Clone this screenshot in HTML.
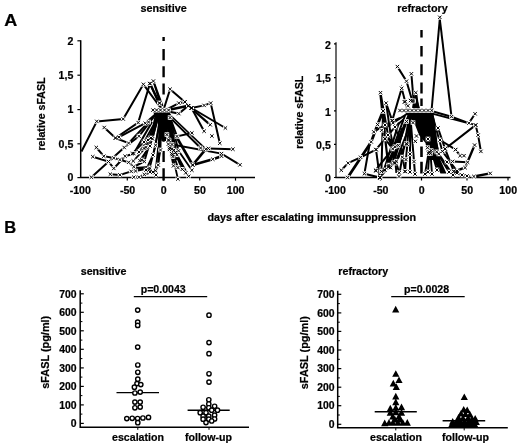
<!DOCTYPE html>
<html><head><meta charset="utf-8"><title>Figure</title>
<style>html,body{margin:0;padding:0;background:#fff}svg{display:block;filter:grayscale(1)}text{font-family:"Liberation Sans",sans-serif;font-weight:bold;stroke:#000;stroke-width:0.22px}</style></head><body>
<svg width="520" height="447" viewBox="0 0 520 447" font-family="Liberation Sans, sans-serif" font-weight="bold" fill="#000">
<rect width="520" height="447" fill="#fff"/>
<text x="4.2" y="25.9" font-size="16" text-anchor="start" textLength="13" lengthAdjust="spacingAndGlyphs">A</text>
<text x="4.3" y="233.2" font-size="16.5" text-anchor="start" >B</text>
<text x="163.6" y="12" font-size="10.8" text-anchor="middle" >sensitive</text>
<text x="422.5" y="12" font-size="10.8" text-anchor="middle" >refractory</text>
<text x="311.8" y="220.8" font-size="10.6" text-anchor="middle" textLength="208.5" lengthAdjust="spacingAndGlyphs">days after escalating immunsuppression</text>
<g stroke="#000" fill="none" stroke-linejoin="round" stroke-linecap="butt">
<path d="M80.7,40.2V177.6H255" stroke-width="1.5"/>
<path d="M77.4,40.8H80.7" stroke-width="1.2"/>
<path d="M77.4,75.2H80.7" stroke-width="1.2"/>
<path d="M77.4,109.6H80.7" stroke-width="1.2"/>
<path d="M77.4,143.8H80.7" stroke-width="1.2"/>
<path d="M77.4,177.6H80.7" stroke-width="1.2"/>
<path d="M127.3,177.6V180.6" stroke-width="1.2"/>
<path d="M163.5,177.6V180.6" stroke-width="1.2"/>
<path d="M199.7,177.6V180.6" stroke-width="1.2"/>
<path d="M235.5,177.6V180.6" stroke-width="1.2"/>
<path d="M163.6,37V41 M163.6,49V60.2 M163.6,66.2V77.3 M163.6,83.4V94.4 M163.6,139.5V141.8 M163.6,151V162 M163.6,168.3V180.5" stroke-width="2.4"/>
</g>
<text x="73.3" y="44.599999999999994" font-size="10.6" text-anchor="end" >2</text>
<text x="73.3" y="79.0" font-size="10.6" text-anchor="end" >1,5</text>
<text x="73.3" y="113.39999999999999" font-size="10.6" text-anchor="end" >1</text>
<text x="73.3" y="147.60000000000002" font-size="10.6" text-anchor="end" >0,5</text>
<text x="73.3" y="181.4" font-size="10.6" text-anchor="end" >0</text>
<text x="80.3" y="194" font-size="10.6" text-anchor="middle" >-100</text>
<text x="127.6" y="194" font-size="10.6" text-anchor="middle" >-50</text>
<text x="163.7" y="194" font-size="10.6" text-anchor="middle" >0</text>
<text x="200" y="194" font-size="10.6" text-anchor="middle" >50</text>
<text x="235.6" y="194" font-size="10.6" text-anchor="middle" >100</text>
<text transform="translate(44.7,114) rotate(-90)" font-size="10.6" text-anchor="middle">relative sFASL</text>
<g stroke="#000" fill="none" stroke-linejoin="miter" stroke-linecap="butt">
<path d="M153,111.5 L170,111.5 L168.5,125 L166,141 L161.5,141 L158.5,125 Z" fill="#000" stroke="none"/>
<polyline points="168,117.6 176,160" stroke-width="3.2"/>
<polyline points="160.5,120 158.2,158" stroke-width="2.4"/>
<polyline points="81.5,151.5 96.8,121.4" stroke-width="2.0"/>
<polyline points="96.8,121.4 123.2,119 143.4,84.3 160,107" stroke-width="2.0"/>
<polyline points="104.2,127.5 115.5,138 138.2,122.6 149.9,83.6 161,108" stroke-width="2.0"/>
<polyline points="149.9,83.6 159.5,103.1" stroke-width="2.2"/>
<polyline points="153.4,81.1 162.5,106" stroke-width="2.0"/>
<polyline points="153.4,81.1 160,103" stroke-width="1.6"/>
<polyline points="163.5,110 170.1,89.2 184.9,101.9 191.5,108" stroke-width="2.0"/>
<polyline points="165.7,110 178.8,103.1 184.9,101.9" stroke-width="2.0"/>
<polyline points="165.7,110.5 188.4,105.8" stroke-width="2.4"/>
<polyline points="165.7,111 178.8,113.6 188.4,105.8" stroke-width="2.0"/>
<polyline points="191.5,108 204.1,105.4 210.7,103.1 219.8,143.2" stroke-width="2.0"/>
<polyline points="191.5,108 204.1,131.2" stroke-width="2.0"/>
<polyline points="191.5,108 225.4,128" stroke-width="2.0"/>
<polyline points="188.4,105.8 210.2,124.8" stroke-width="2.2"/>
<polyline points="170.1,117.6 200.6,148 208.4,148.4 232.9,149.2" stroke-width="2.0"/>
<polyline points="168,113 205.8,149.2" stroke-width="1.7"/>
<polyline points="170.1,117.6 177,136.4 191.9,133" stroke-width="2.0"/>
<polyline points="172,144.5 221.5,153.6 240,164.8" stroke-width="2.0"/>
<polyline points="176,136 192.7,165" stroke-width="2.6"/>
<polyline points="192.7,165 212.8,159.2 221.5,156.2" stroke-width="2.6"/>
<polyline points="192.7,165 205.8,149.2" stroke-width="2.6"/>
<polyline points="166.5,113 169.10399999999998,140.39 172.7,154.5" stroke-width="1.8"/>
<polyline points="166.9,113 169.672,147.848 173.5,165.8" stroke-width="1.8"/>
<polyline points="167.3,113 171.752,149.036 177.9,167.6" stroke-width="1.8"/>
<polyline points="167.7,113 173.832,150.15800000000002 182.3,169.3" stroke-width="1.8"/>
<polyline points="168.1,113 175.534,152.46800000000002 185.8,172.8" stroke-width="1.8"/>
<polyline points="168.5,113 176.98399999999998,154.77800000000002 188.7,176.3" stroke-width="1.8"/>
<polyline points="168.9,113 178.56,150.752 191.9,170.2" stroke-width="1.8"/>
<polyline points="169.3,113 172.912,156.56 177.9,179" stroke-width="1.8"/>
<polyline points="91.4,177.2 124.2,147.5 139,136.2 156,114" stroke-width="2.0"/>
<polyline points="119,137.1 145.2,123.2 158,112" stroke-width="2.0"/>
<polyline points="115.5,138 128.6,143.1 148.6,122 159,111" stroke-width="2.0"/>
<polyline points="96.3,147.5 103.8,156.2 113.8,158 119.9,159.7 128.6,162.3 133.8,166.7 144.3,161.5 157,118" stroke-width="2.0"/>
<polyline points="92.8,156.7 108.5,161.5 113.8,168.4 125.1,156.2 133.8,153.6 152,122" stroke-width="2.0"/>
<polyline points="110.3,174.2 119.9,174.9 131.2,171.4 135.6,171 149.5,168" stroke-width="2.0"/>
<polyline points="133.8,177.2 139,177.2 144.3,174.5 153,172 158.2,165 162,115" stroke-width="2.0"/>
<polyline points="135,168.5 149,167.5" stroke-width="3"/>
<polyline points="141.8,160 152.5,138.8 157.8,117.6" stroke-width="1.8"/>
<polyline points="149.3,169.6 155.6,145.2 159.9,117.6" stroke-width="1.8"/>
<polyline points="155.6,170.7 159.9,132.5" stroke-width="1.8"/>
<polyline points="132.3,153.7 144,142 153.5,125 156,114" stroke-width="1.8"/>
<polyline points="133.3,161 146,147.3 154.6,128.2 157,114" stroke-width="1.8"/>
<polyline points="139,152 148,140 155,122" stroke-width="1.8"/>
<polyline points="144,148.4 151,138 156.5,120" stroke-width="1.8"/>
<polyline points="139.9,160.6 150,146 157,122" stroke-width="1.8"/>
<polyline points="150,172 156,175 160.5,150 161,125" stroke-width="1.8"/>
<polyline points="146,170 153,155 158.5,130" stroke-width="1.8"/>
<rect x="94.5" y="119.1" width="4.6" height="4.6" fill="#fff" stroke="none"/>
<rect x="120.9" y="116.7" width="4.6" height="4.6" fill="#fff" stroke="none"/>
<rect x="141.1" y="82.0" width="4.6" height="4.6" fill="#fff" stroke="none"/>
<rect x="101.9" y="125.2" width="4.6" height="4.6" fill="#fff" stroke="none"/>
<rect x="113.2" y="135.7" width="4.6" height="4.6" fill="#fff" stroke="none"/>
<rect x="135.9" y="120.3" width="4.6" height="4.6" fill="#fff" stroke="none"/>
<rect x="147.6" y="81.3" width="4.6" height="4.6" fill="#fff" stroke="none"/>
<rect x="147.6" y="81.3" width="4.6" height="4.6" fill="#fff" stroke="none"/>
<rect x="157.2" y="100.8" width="4.6" height="4.6" fill="#fff" stroke="none"/>
<rect x="151.1" y="78.8" width="4.6" height="4.6" fill="#fff" stroke="none"/>
<rect x="167.8" y="86.9" width="4.6" height="4.6" fill="#fff" stroke="none"/>
<rect x="182.6" y="99.6" width="4.6" height="4.6" fill="#fff" stroke="none"/>
<rect x="189.2" y="105.7" width="4.6" height="4.6" fill="#fff" stroke="none"/>
<rect x="176.5" y="100.8" width="4.6" height="4.6" fill="#fff" stroke="none"/>
<rect x="182.6" y="99.6" width="4.6" height="4.6" fill="#fff" stroke="none"/>
<rect x="186.1" y="103.5" width="4.6" height="4.6" fill="#fff" stroke="none"/>
<rect x="176.5" y="111.3" width="4.6" height="4.6" fill="#fff" stroke="none"/>
<rect x="186.1" y="103.5" width="4.6" height="4.6" fill="#fff" stroke="none"/>
<rect x="189.2" y="105.7" width="4.6" height="4.6" fill="#fff" stroke="none"/>
<rect x="201.8" y="103.1" width="4.6" height="4.6" fill="#fff" stroke="none"/>
<rect x="208.4" y="100.8" width="4.6" height="4.6" fill="#fff" stroke="none"/>
<rect x="217.5" y="140.9" width="4.6" height="4.6" fill="#fff" stroke="none"/>
<rect x="189.2" y="105.7" width="4.6" height="4.6" fill="#fff" stroke="none"/>
<rect x="201.8" y="128.9" width="4.6" height="4.6" fill="#fff" stroke="none"/>
<rect x="189.2" y="105.7" width="4.6" height="4.6" fill="#fff" stroke="none"/>
<rect x="223.1" y="125.7" width="4.6" height="4.6" fill="#fff" stroke="none"/>
<rect x="186.1" y="103.5" width="4.6" height="4.6" fill="#fff" stroke="none"/>
<rect x="207.9" y="122.5" width="4.6" height="4.6" fill="#fff" stroke="none"/>
<rect x="209.6" y="133.7" width="4.6" height="4.6" fill="#fff" stroke="none"/>
<rect x="198.3" y="145.7" width="4.6" height="4.6" fill="#fff" stroke="none"/>
<rect x="206.1" y="146.1" width="4.6" height="4.6" fill="#fff" stroke="none"/>
<rect x="230.6" y="146.9" width="4.6" height="4.6" fill="#fff" stroke="none"/>
<rect x="174.7" y="134.1" width="4.6" height="4.6" fill="#fff" stroke="none"/>
<rect x="189.6" y="130.7" width="4.6" height="4.6" fill="#fff" stroke="none"/>
<rect x="169.7" y="142.2" width="4.6" height="4.6" fill="#fff" stroke="none"/>
<rect x="219.2" y="151.3" width="4.6" height="4.6" fill="#fff" stroke="none"/>
<rect x="237.7" y="162.5" width="4.6" height="4.6" fill="#fff" stroke="none"/>
<rect x="190.4" y="162.7" width="4.6" height="4.6" fill="#fff" stroke="none"/>
<rect x="210.5" y="156.9" width="4.6" height="4.6" fill="#fff" stroke="none"/>
<rect x="219.2" y="153.9" width="4.6" height="4.6" fill="#fff" stroke="none"/>
<rect x="190.4" y="162.7" width="4.6" height="4.6" fill="#fff" stroke="none"/>
<rect x="203.5" y="146.9" width="4.6" height="4.6" fill="#fff" stroke="none"/>
<rect x="166.8" y="138.1" width="4.6" height="4.6" fill="#fff" stroke="none"/>
<rect x="170.4" y="152.2" width="4.6" height="4.6" fill="#fff" stroke="none"/>
<rect x="167.4" y="145.5" width="4.6" height="4.6" fill="#fff" stroke="none"/>
<rect x="171.2" y="163.5" width="4.6" height="4.6" fill="#fff" stroke="none"/>
<rect x="169.5" y="146.7" width="4.6" height="4.6" fill="#fff" stroke="none"/>
<rect x="175.6" y="165.3" width="4.6" height="4.6" fill="#fff" stroke="none"/>
<rect x="171.5" y="147.9" width="4.6" height="4.6" fill="#fff" stroke="none"/>
<rect x="180.0" y="167.0" width="4.6" height="4.6" fill="#fff" stroke="none"/>
<rect x="173.2" y="150.2" width="4.6" height="4.6" fill="#fff" stroke="none"/>
<rect x="183.5" y="170.5" width="4.6" height="4.6" fill="#fff" stroke="none"/>
<rect x="174.7" y="152.5" width="4.6" height="4.6" fill="#fff" stroke="none"/>
<rect x="186.4" y="174.0" width="4.6" height="4.6" fill="#fff" stroke="none"/>
<rect x="176.3" y="148.5" width="4.6" height="4.6" fill="#fff" stroke="none"/>
<rect x="189.6" y="167.9" width="4.6" height="4.6" fill="#fff" stroke="none"/>
<rect x="170.6" y="154.3" width="4.6" height="4.6" fill="#fff" stroke="none"/>
<rect x="175.6" y="176.7" width="4.6" height="4.6" fill="#fff" stroke="none"/>
<rect x="164.6" y="132.3" width="4.6" height="4.6" fill="#fff" stroke="none"/>
<rect x="166.1" y="137.6" width="4.6" height="4.6" fill="#fff" stroke="none"/>
<rect x="166.1" y="141.8" width="4.6" height="4.6" fill="#fff" stroke="none"/>
<rect x="167.2" y="147.1" width="4.6" height="4.6" fill="#fff" stroke="none"/>
<rect x="169.3" y="151.4" width="4.6" height="4.6" fill="#fff" stroke="none"/>
<rect x="89.1" y="174.9" width="4.6" height="4.6" fill="#fff" stroke="none"/>
<rect x="121.9" y="145.2" width="4.6" height="4.6" fill="#fff" stroke="none"/>
<rect x="136.7" y="133.9" width="4.6" height="4.6" fill="#fff" stroke="none"/>
<rect x="116.7" y="134.8" width="4.6" height="4.6" fill="#fff" stroke="none"/>
<rect x="142.9" y="120.9" width="4.6" height="4.6" fill="#fff" stroke="none"/>
<rect x="113.2" y="135.7" width="4.6" height="4.6" fill="#fff" stroke="none"/>
<rect x="126.3" y="140.8" width="4.6" height="4.6" fill="#fff" stroke="none"/>
<rect x="146.3" y="119.7" width="4.6" height="4.6" fill="#fff" stroke="none"/>
<rect x="94.0" y="145.2" width="4.6" height="4.6" fill="#fff" stroke="none"/>
<rect x="101.5" y="153.9" width="4.6" height="4.6" fill="#fff" stroke="none"/>
<rect x="111.5" y="155.7" width="4.6" height="4.6" fill="#fff" stroke="none"/>
<rect x="117.6" y="157.4" width="4.6" height="4.6" fill="#fff" stroke="none"/>
<rect x="126.3" y="160.0" width="4.6" height="4.6" fill="#fff" stroke="none"/>
<rect x="131.5" y="164.4" width="4.6" height="4.6" fill="#fff" stroke="none"/>
<rect x="142.0" y="159.2" width="4.6" height="4.6" fill="#fff" stroke="none"/>
<rect x="90.5" y="154.4" width="4.6" height="4.6" fill="#fff" stroke="none"/>
<rect x="106.2" y="159.2" width="4.6" height="4.6" fill="#fff" stroke="none"/>
<rect x="111.5" y="166.1" width="4.6" height="4.6" fill="#fff" stroke="none"/>
<rect x="122.8" y="153.9" width="4.6" height="4.6" fill="#fff" stroke="none"/>
<rect x="131.5" y="151.3" width="4.6" height="4.6" fill="#fff" stroke="none"/>
<rect x="108.0" y="171.9" width="4.6" height="4.6" fill="#fff" stroke="none"/>
<rect x="117.6" y="172.6" width="4.6" height="4.6" fill="#fff" stroke="none"/>
<rect x="128.9" y="169.1" width="4.6" height="4.6" fill="#fff" stroke="none"/>
<rect x="133.3" y="168.7" width="4.6" height="4.6" fill="#fff" stroke="none"/>
<rect x="147.2" y="165.7" width="4.6" height="4.6" fill="#fff" stroke="none"/>
<rect x="131.5" y="174.9" width="4.6" height="4.6" fill="#fff" stroke="none"/>
<rect x="136.7" y="174.9" width="4.6" height="4.6" fill="#fff" stroke="none"/>
<rect x="142.0" y="172.2" width="4.6" height="4.6" fill="#fff" stroke="none"/>
<rect x="150.7" y="169.7" width="4.6" height="4.6" fill="#fff" stroke="none"/>
<rect x="155.9" y="162.7" width="4.6" height="4.6" fill="#fff" stroke="none"/>
<rect x="139.5" y="157.7" width="4.6" height="4.6" fill="#fff" stroke="none"/>
<rect x="150.2" y="136.5" width="4.6" height="4.6" fill="#fff" stroke="none"/>
<rect x="147.0" y="167.3" width="4.6" height="4.6" fill="#fff" stroke="none"/>
<rect x="153.3" y="142.9" width="4.6" height="4.6" fill="#fff" stroke="none"/>
<rect x="153.3" y="168.4" width="4.6" height="4.6" fill="#fff" stroke="none"/>
<rect x="130.0" y="151.4" width="4.6" height="4.6" fill="#fff" stroke="none"/>
<rect x="141.7" y="139.7" width="4.6" height="4.6" fill="#fff" stroke="none"/>
<rect x="131.0" y="158.7" width="4.6" height="4.6" fill="#fff" stroke="none"/>
<rect x="143.7" y="145.0" width="4.6" height="4.6" fill="#fff" stroke="none"/>
<rect x="136.7" y="149.7" width="4.6" height="4.6" fill="#fff" stroke="none"/>
<rect x="145.7" y="137.7" width="4.6" height="4.6" fill="#fff" stroke="none"/>
<rect x="141.7" y="146.1" width="4.6" height="4.6" fill="#fff" stroke="none"/>
<rect x="148.7" y="135.7" width="4.6" height="4.6" fill="#fff" stroke="none"/>
<rect x="137.6" y="158.3" width="4.6" height="4.6" fill="#fff" stroke="none"/>
<rect x="147.7" y="143.7" width="4.6" height="4.6" fill="#fff" stroke="none"/>
<rect x="147.7" y="169.7" width="4.6" height="4.6" fill="#fff" stroke="none"/>
<rect x="153.7" y="172.7" width="4.6" height="4.6" fill="#fff" stroke="none"/>
<rect x="158.2" y="147.7" width="4.6" height="4.6" fill="#fff" stroke="none"/>
<rect x="143.7" y="167.7" width="4.6" height="4.6" fill="#fff" stroke="none"/>
<rect x="150.7" y="152.7" width="4.6" height="4.6" fill="#fff" stroke="none"/>
<rect x="150.7" y="107.8" width="4.6" height="4.6" fill="#fff" stroke="none"/>
<rect x="154.3" y="107.8" width="4.6" height="4.6" fill="#fff" stroke="none"/>
<rect x="158.2" y="107.8" width="4.6" height="4.6" fill="#fff" stroke="none"/>
<rect x="162.2" y="107.8" width="4.6" height="4.6" fill="#fff" stroke="none"/>
<rect x="166.3" y="107.8" width="4.6" height="4.6" fill="#fff" stroke="none"/>
<rect x="157.3" y="100.8" width="4.6" height="4.6" fill="#fff" stroke="none"/>
<rect x="167.8" y="115.3" width="4.6" height="4.6" fill="#fff" stroke="none"/>
<path d="M95.1,119.7L98.5,123.1M95.1,123.1L98.5,119.7M121.5,117.3L124.9,120.7M121.5,120.7L124.9,117.3M141.7,82.6L145.1,86.0M141.7,86.0L145.1,82.6M102.5,125.8L105.9,129.2M102.5,129.2L105.9,125.8M113.8,136.3L117.2,139.7M113.8,139.7L117.2,136.3M136.5,120.9L139.9,124.3M136.5,124.3L139.9,120.9M148.2,81.9L151.6,85.3M148.2,85.3L151.6,81.9M148.2,81.9L151.6,85.3M148.2,85.3L151.6,81.9M157.8,101.4L161.2,104.8M157.8,104.8L161.2,101.4M151.7,79.4L155.1,82.8M151.7,82.8L155.1,79.4M168.4,87.5L171.8,90.9M168.4,90.9L171.8,87.5M183.2,100.2L186.6,103.6M183.2,103.6L186.6,100.2M189.8,106.3L193.2,109.7M189.8,109.7L193.2,106.3M177.1,101.4L180.5,104.8M177.1,104.8L180.5,101.4M183.2,100.2L186.6,103.6M183.2,103.6L186.6,100.2M186.7,104.1L190.1,107.5M186.7,107.5L190.1,104.1M177.1,111.9L180.5,115.3M177.1,115.3L180.5,111.9M186.7,104.1L190.1,107.5M186.7,107.5L190.1,104.1M189.8,106.3L193.2,109.7M189.8,109.7L193.2,106.3M202.4,103.7L205.8,107.1M202.4,107.1L205.8,103.7M209.0,101.4L212.4,104.8M209.0,104.8L212.4,101.4M218.1,141.5L221.5,144.9M218.1,144.9L221.5,141.5M189.8,106.3L193.2,109.7M189.8,109.7L193.2,106.3M202.4,129.5L205.8,132.9M202.4,132.9L205.8,129.5M189.8,106.3L193.2,109.7M189.8,109.7L193.2,106.3M223.7,126.3L227.1,129.7M223.7,129.7L227.1,126.3M186.7,104.1L190.1,107.5M186.7,107.5L190.1,104.1M208.5,123.1L211.9,126.5M208.5,126.5L211.9,123.1M210.2,134.3L213.6,137.7M210.2,137.7L213.6,134.3M198.9,146.3L202.3,149.7M198.9,149.7L202.3,146.3M206.7,146.7L210.1,150.1M206.7,150.1L210.1,146.7M231.2,147.5L234.6,150.9M231.2,150.9L234.6,147.5M175.3,134.7L178.7,138.1M175.3,138.1L178.7,134.7M190.2,131.3L193.6,134.7M190.2,134.7L193.6,131.3M170.3,142.8L173.7,146.2M170.3,146.2L173.7,142.8M219.8,151.9L223.2,155.3M219.8,155.3L223.2,151.9M238.3,163.1L241.7,166.5M238.3,166.5L241.7,163.1M191.0,163.3L194.4,166.7M191.0,166.7L194.4,163.3M211.1,157.5L214.5,160.9M211.1,160.9L214.5,157.5M219.8,154.5L223.2,157.9M219.8,157.9L223.2,154.5M191.0,163.3L194.4,166.7M191.0,166.7L194.4,163.3M204.1,147.5L207.5,150.9M204.1,150.9L207.5,147.5M167.4,138.7L170.8,142.1M167.4,142.1L170.8,138.7M171.0,152.8L174.4,156.2M171.0,156.2L174.4,152.8M168.0,146.1L171.4,149.5M168.0,149.5L171.4,146.1M171.8,164.1L175.2,167.5M171.8,167.5L175.2,164.1M170.1,147.3L173.5,150.7M170.1,150.7L173.5,147.3M176.2,165.9L179.6,169.3M176.2,169.3L179.6,165.9M172.1,148.5L175.5,151.9M172.1,151.9L175.5,148.5M180.6,167.6L184.0,171.0M180.6,171.0L184.0,167.6M173.8,150.8L177.2,154.2M173.8,154.2L177.2,150.8M184.1,171.1L187.5,174.5M184.1,174.5L187.5,171.1M175.3,153.1L178.7,156.5M175.3,156.5L178.7,153.1M187.0,174.6L190.4,178.0M187.0,178.0L190.4,174.6M176.9,149.1L180.3,152.5M176.9,152.5L180.3,149.1M190.2,168.5L193.6,171.9M190.2,171.9L193.6,168.5M171.2,154.9L174.6,158.3M171.2,158.3L174.6,154.9M176.2,177.3L179.6,180.7M176.2,180.7L179.6,177.3M165.2,132.9L168.6,136.3M165.2,136.3L168.6,132.9M166.7,138.2L170.1,141.6M166.7,141.6L170.1,138.2M166.7,142.4L170.1,145.8M166.7,145.8L170.1,142.4M167.8,147.7L171.2,151.1M167.8,151.1L171.2,147.7M169.9,152.0L173.3,155.4M169.9,155.4L173.3,152.0M89.7,175.5L93.1,178.9M89.7,178.9L93.1,175.5M122.5,145.8L125.9,149.2M122.5,149.2L125.9,145.8M137.3,134.5L140.7,137.9M137.3,137.9L140.7,134.5M117.3,135.4L120.7,138.8M117.3,138.8L120.7,135.4M143.5,121.5L146.9,124.9M143.5,124.9L146.9,121.5M113.8,136.3L117.2,139.7M113.8,139.7L117.2,136.3M126.9,141.4L130.3,144.8M126.9,144.8L130.3,141.4M146.9,120.3L150.3,123.7M146.9,123.7L150.3,120.3M94.6,145.8L98.0,149.2M94.6,149.2L98.0,145.8M102.1,154.5L105.5,157.9M102.1,157.9L105.5,154.5M112.1,156.3L115.5,159.7M112.1,159.7L115.5,156.3M118.2,158.0L121.6,161.4M118.2,161.4L121.6,158.0M126.9,160.6L130.3,164.0M126.9,164.0L130.3,160.6M132.1,165.0L135.5,168.4M132.1,168.4L135.5,165.0M142.6,159.8L146.0,163.2M142.6,163.2L146.0,159.8M91.1,155.0L94.5,158.4M91.1,158.4L94.5,155.0M106.8,159.8L110.2,163.2M106.8,163.2L110.2,159.8M112.1,166.7L115.5,170.1M112.1,170.1L115.5,166.7M123.4,154.5L126.8,157.9M123.4,157.9L126.8,154.5M132.1,151.9L135.5,155.3M132.1,155.3L135.5,151.9M108.6,172.5L112.0,175.9M108.6,175.9L112.0,172.5M118.2,173.2L121.6,176.6M118.2,176.6L121.6,173.2M129.5,169.7L132.9,173.1M129.5,173.1L132.9,169.7M133.9,169.3L137.3,172.7M133.9,172.7L137.3,169.3M147.8,166.3L151.2,169.7M147.8,169.7L151.2,166.3M132.1,175.5L135.5,178.9M132.1,178.9L135.5,175.5M137.3,175.5L140.7,178.9M137.3,178.9L140.7,175.5M142.6,172.8L146.0,176.2M142.6,176.2L146.0,172.8M151.3,170.3L154.7,173.7M151.3,173.7L154.7,170.3M156.5,163.3L159.9,166.7M156.5,166.7L159.9,163.3M140.1,158.3L143.5,161.7M140.1,161.7L143.5,158.3M150.8,137.1L154.2,140.5M150.8,140.5L154.2,137.1M147.6,167.9L151.0,171.3M147.6,171.3L151.0,167.9M153.9,143.5L157.3,146.9M153.9,146.9L157.3,143.5M153.9,169.0L157.3,172.4M153.9,172.4L157.3,169.0M130.6,152.0L134.0,155.4M130.6,155.4L134.0,152.0M142.3,140.3L145.7,143.7M142.3,143.7L145.7,140.3M131.6,159.3L135.0,162.7M131.6,162.7L135.0,159.3M144.3,145.6L147.7,149.0M144.3,149.0L147.7,145.6M137.3,150.3L140.7,153.7M137.3,153.7L140.7,150.3M146.3,138.3L149.7,141.7M146.3,141.7L149.7,138.3M142.3,146.7L145.7,150.1M142.3,150.1L145.7,146.7M149.3,136.3L152.7,139.7M149.3,139.7L152.7,136.3M138.2,158.9L141.6,162.3M138.2,162.3L141.6,158.9M148.3,144.3L151.7,147.7M148.3,147.7L151.7,144.3M148.3,170.3L151.7,173.7M148.3,173.7L151.7,170.3M154.3,173.3L157.7,176.7M154.3,176.7L157.7,173.3M158.8,148.3L162.2,151.7M158.8,151.7L162.2,148.3M144.3,168.3L147.7,171.7M144.3,171.7L147.7,168.3M151.3,153.3L154.7,156.7M151.3,156.7L154.7,153.3M151.3,108.4L154.7,111.8M151.3,111.8L154.7,108.4M154.9,108.4L158.3,111.8M154.9,111.8L158.3,108.4M158.8,108.4L162.2,111.8M158.8,111.8L162.2,108.4M162.8,108.4L166.2,111.8M162.8,111.8L166.2,108.4M166.9,108.4L170.3,111.8M166.9,111.8L170.3,108.4M157.9,101.4L161.3,104.8M157.9,104.8L161.3,101.4M168.4,115.9L171.8,119.3M168.4,119.3L171.8,115.9" stroke="#000" stroke-width="1.0" fill="none"/>
</g>
<g stroke="#000" fill="none" stroke-linejoin="round" stroke-linecap="butt">
<path d="M336,42.3V177.5" stroke-width="1.5" stroke="#3a3a3a"/><path d="M335.3,177.5H510.5" stroke-width="1.5"/>
<path d="M334,43.9H336" stroke-width="1.2"/>
<path d="M334,77.7H336" stroke-width="1.2"/>
<path d="M334,110.9H336" stroke-width="1.2"/>
<path d="M334,144.3H336" stroke-width="1.2"/>
<path d="M334,177.5H336" stroke-width="1.2"/>
<path d="M380.5,177.5V180.5" stroke-width="1.2"/>
<path d="M421.5,177.5V180.5" stroke-width="1.2"/>
<path d="M467,177.5V180.5" stroke-width="1.2"/>
<path d="M508,177.5V180.5" stroke-width="1.2"/>
<path d="M421.5,30V37.5 M421.5,46V56.5 M421.5,64.3V75.3 M421.5,82.4V93.5 M421.5,98.5V106" stroke-width="2.4"/>
</g>
<text x="330.8" y="48.6" font-size="10.6" text-anchor="end" >2</text>
<text x="330.8" y="82.4" font-size="10.6" text-anchor="end" >1,5</text>
<text x="330.8" y="115.60000000000001" font-size="10.6" text-anchor="end" >1</text>
<text x="330.8" y="149.0" font-size="10.6" text-anchor="end" >0,5</text>
<text x="330.8" y="182.2" font-size="10.6" text-anchor="end" >0</text>
<text x="335.3" y="194" font-size="10.6" text-anchor="middle" >-100</text>
<text x="380.8" y="194" font-size="10.6" text-anchor="middle" >-50</text>
<text x="421.8" y="194" font-size="10.6" text-anchor="middle" >0</text>
<text x="467.2" y="194" font-size="10.6" text-anchor="middle" >50</text>
<text x="508.2" y="194" font-size="10.6" text-anchor="middle" >100</text>
<text transform="translate(303.4,112.2) rotate(-90)" font-size="10.6" text-anchor="middle">relative sFASL</text>
<g stroke="#000" fill="none" stroke-linejoin="miter" stroke-linecap="butt">
<path d="M404,111.5 L433,111.5 L435.5,125 L437.5,143 L440.5,160 L446.5,173.5 L440.5,173.5 L433.5,160 L428.5,160 L425.5,143 L419,135 L414,122 Z" fill="#000" stroke="none"/>
<path d="M421.5,136V142 M421.5,146.6V157 M421.5,161.7V173.4" stroke-width="2.6"/>
<polyline points="431.5,111 439.8,19" stroke-width="2.0"/>
<polyline points="439.8,19 451.5,116.7" stroke-width="2.0"/>
<polyline points="431.5,111 451.5,116.7 468.9,123.1 475.1,113.8" stroke-width="2.0"/>
<polyline points="432.3,113.6 475.6,125.1 478.1,135.1 480.9,151.4" stroke-width="2.0"/>
<polyline points="438,128 445.1,148.9 475.6,125.1" stroke-width="2.0"/>
<polyline points="474.6,145.1 465.1,167.7 453.8,171.4" stroke-width="2.4"/>
<polyline points="455.6,149.6 460.1,155.7 464,155.7" stroke-width="2.0"/>
<polyline points="473.9,176.5 490.2,173.4" stroke-width="2.4"/>
<polyline points="445.1,148.9 453.8,171.4" stroke-width="2.0"/>
<polyline points="440,140 455.6,149.6" stroke-width="2.0"/>
<polyline points="452.6,161.4 467.6,162.2" stroke-width="2.0"/>
<polyline points="341.3,170.2 348.1,163.1 360.6,157.3 376,149.6 384.8,138.8 395,127 404,119" stroke-width="2.0"/>
<polyline points="347.7,177.5 371.2,141.9 377.6,124.6 383.1,111" stroke-width="2.8"/>
<polyline points="383.1,111 385.2,138.9 388.5,166.9" stroke-width="2.2"/>
<polyline points="364.4,173.7 368.3,151.5 370.1,141.8" stroke-width="2.0"/>
<polyline points="364.4,173.7 379.8,177.5" stroke-width="2.0"/>
<polyline points="376,149.6 379.8,177.5" stroke-width="2.0"/>
<polyline points="379.8,177.5 388.5,166.9 395.2,163.1 410,125" stroke-width="2.0"/>
<polyline points="380.5,92.7 388,135 399.2,172.8" stroke-width="2.0"/>
<polyline points="386.1,103.1 392.2,120.6 398,135 405.2,171.4" stroke-width="2.0"/>
<polyline points="383.1,111 381.4,171.4 376,170.8" stroke-width="2.0"/>
<polyline points="392.2,120.6 401.7,88.3 405.2,101.7 407.9,105.8" stroke-width="2.0"/>
<polyline points="397.4,66.6 406.5,81.2 412.3,101" stroke-width="2.0"/>
<polyline points="411.4,73.8 413.6,101" stroke-width="2.0"/>
<polyline points="415.8,92.7 418,110" stroke-width="2.6"/>
<polyline points="415.8,92.7 413,108" stroke-width="2.0"/>
<path d="M415.8,94 L420.5,110 L413,110 Z" fill="#000" stroke="none"/>
<polyline points="404.4,101.9 409,111" stroke-width="2.0"/>
<polyline points="373.8,131.9 385,125 400,118" stroke-width="2.0"/>
<polyline points="384.8,138.8 390.6,139.8 394.5,163.2" stroke-width="2.0"/>
<polyline points="386.1,103.1 390.6,134 394.5,151.5 396.4,173" stroke-width="2.0"/>
<polyline points="379.9,177.8 388.6,165.1 396.4,161.2 406.2,143.7" stroke-width="2.0"/>
<polyline points="381.8,173 393.5,151.5 402.3,128.1" stroke-width="2.0"/>
<polyline points="388.6,165.1 402.3,134" stroke-width="2.0"/>
<polyline points="375.6,170.2 392.7,148.9 405.2,115" stroke-width="2.0"/>
<polyline points="383.9,170.2 398.9,122.6" stroke-width="2.0"/>
<polyline points="393.9,162.7 405.2,122.6" stroke-width="2.0"/>
<polyline points="380.1,92.5 385.1,138.9 392.7,148.9" stroke-width="2.0"/>
<polyline points="410,112 398.3,145.35999999999999 390.5,167.6" stroke-width="2.0"/>
<polyline points="410,112 402.3,157.15 399,176.5" stroke-width="2.0"/>
<polyline points="410,112 406.0,159.6 405,171.5" stroke-width="2.0"/>
<polyline points="410,112 395.0,146.8 385,170" stroke-width="2.0"/>
<polyline points="410,112 410.0,154.0 410,172" stroke-width="2.0"/>
<polyline points="410,112 414.0,161.6 415,174" stroke-width="2.0"/>
<polyline points="410,112 393.02,122.91999999999999 381.7,130.2" stroke-width="2.0"/>
<polyline points="427.0,113 431.2,150.62 437,170" stroke-width="1.9"/>
<polyline points="427.8,113 436.704,151.94 449,172" stroke-width="1.9"/>
<polyline points="428.6,113 438.848,153.92000000000002 453,175" stroke-width="1.9"/>
<polyline points="429.4,113 430.49199999999996,153.26 432,174" stroke-width="1.9"/>
<polyline points="430.2,113 429.276,151.94 428,172" stroke-width="1.9"/>
<polyline points="431.0,113 428.48,153.26 425,174" stroke-width="1.9"/>
<polyline points="431.8,113 442.384,151.28 457,171" stroke-width="1.9"/>
<polyline points="449,172 470,176.5" stroke-width="2.2"/>
<rect x="437.5" y="15.0" width="4.6" height="4.6" fill="#fff" stroke="none"/>
<rect x="449.2" y="114.4" width="4.6" height="4.6" fill="#fff" stroke="none"/>
<rect x="466.6" y="120.8" width="4.6" height="4.6" fill="#fff" stroke="none"/>
<rect x="472.8" y="111.5" width="4.6" height="4.6" fill="#fff" stroke="none"/>
<rect x="473.3" y="122.8" width="4.6" height="4.6" fill="#fff" stroke="none"/>
<rect x="475.8" y="132.8" width="4.6" height="4.6" fill="#fff" stroke="none"/>
<rect x="478.6" y="149.1" width="4.6" height="4.6" fill="#fff" stroke="none"/>
<rect x="435.7" y="125.7" width="4.6" height="4.6" fill="#fff" stroke="none"/>
<rect x="442.8" y="146.6" width="4.6" height="4.6" fill="#fff" stroke="none"/>
<rect x="473.3" y="122.8" width="4.6" height="4.6" fill="#fff" stroke="none"/>
<rect x="472.3" y="142.8" width="4.6" height="4.6" fill="#fff" stroke="none"/>
<rect x="462.8" y="165.4" width="4.6" height="4.6" fill="#fff" stroke="none"/>
<rect x="451.5" y="169.1" width="4.6" height="4.6" fill="#fff" stroke="none"/>
<rect x="453.3" y="147.3" width="4.6" height="4.6" fill="#fff" stroke="none"/>
<rect x="457.8" y="153.4" width="4.6" height="4.6" fill="#fff" stroke="none"/>
<rect x="461.7" y="153.4" width="4.6" height="4.6" fill="#fff" stroke="none"/>
<rect x="471.6" y="174.2" width="4.6" height="4.6" fill="#fff" stroke="none"/>
<rect x="487.9" y="171.1" width="4.6" height="4.6" fill="#fff" stroke="none"/>
<rect x="442.8" y="146.6" width="4.6" height="4.6" fill="#fff" stroke="none"/>
<rect x="451.5" y="169.1" width="4.6" height="4.6" fill="#fff" stroke="none"/>
<rect x="437.7" y="137.7" width="4.6" height="4.6" fill="#fff" stroke="none"/>
<rect x="453.3" y="147.3" width="4.6" height="4.6" fill="#fff" stroke="none"/>
<rect x="450.3" y="159.1" width="4.6" height="4.6" fill="#fff" stroke="none"/>
<rect x="465.3" y="159.9" width="4.6" height="4.6" fill="#fff" stroke="none"/>
<rect x="339.0" y="167.9" width="4.6" height="4.6" fill="#fff" stroke="none"/>
<rect x="345.8" y="160.8" width="4.6" height="4.6" fill="#fff" stroke="none"/>
<rect x="358.3" y="155.0" width="4.6" height="4.6" fill="#fff" stroke="none"/>
<rect x="373.7" y="147.3" width="4.6" height="4.6" fill="#fff" stroke="none"/>
<rect x="382.5" y="136.5" width="4.6" height="4.6" fill="#fff" stroke="none"/>
<rect x="392.7" y="124.7" width="4.6" height="4.6" fill="#fff" stroke="none"/>
<rect x="345.4" y="175.2" width="4.6" height="4.6" fill="#fff" stroke="none"/>
<rect x="368.9" y="139.6" width="4.6" height="4.6" fill="#fff" stroke="none"/>
<rect x="375.3" y="122.3" width="4.6" height="4.6" fill="#fff" stroke="none"/>
<rect x="380.8" y="108.7" width="4.6" height="4.6" fill="#fff" stroke="none"/>
<rect x="380.8" y="108.7" width="4.6" height="4.6" fill="#fff" stroke="none"/>
<rect x="382.9" y="136.6" width="4.6" height="4.6" fill="#fff" stroke="none"/>
<rect x="386.2" y="164.6" width="4.6" height="4.6" fill="#fff" stroke="none"/>
<rect x="362.1" y="171.4" width="4.6" height="4.6" fill="#fff" stroke="none"/>
<rect x="377.5" y="175.2" width="4.6" height="4.6" fill="#fff" stroke="none"/>
<rect x="373.7" y="147.3" width="4.6" height="4.6" fill="#fff" stroke="none"/>
<rect x="377.5" y="175.2" width="4.6" height="4.6" fill="#fff" stroke="none"/>
<rect x="377.5" y="175.2" width="4.6" height="4.6" fill="#fff" stroke="none"/>
<rect x="386.2" y="164.6" width="4.6" height="4.6" fill="#fff" stroke="none"/>
<rect x="392.9" y="160.8" width="4.6" height="4.6" fill="#fff" stroke="none"/>
<rect x="378.2" y="90.4" width="4.6" height="4.6" fill="#fff" stroke="none"/>
<rect x="385.7" y="132.7" width="4.6" height="4.6" fill="#fff" stroke="none"/>
<rect x="396.9" y="170.5" width="4.6" height="4.6" fill="#fff" stroke="none"/>
<rect x="383.8" y="100.8" width="4.6" height="4.6" fill="#fff" stroke="none"/>
<rect x="389.9" y="118.3" width="4.6" height="4.6" fill="#fff" stroke="none"/>
<rect x="402.9" y="169.1" width="4.6" height="4.6" fill="#fff" stroke="none"/>
<rect x="380.8" y="108.7" width="4.6" height="4.6" fill="#fff" stroke="none"/>
<rect x="379.1" y="169.1" width="4.6" height="4.6" fill="#fff" stroke="none"/>
<rect x="373.7" y="168.5" width="4.6" height="4.6" fill="#fff" stroke="none"/>
<rect x="389.9" y="118.3" width="4.6" height="4.6" fill="#fff" stroke="none"/>
<rect x="399.4" y="86.0" width="4.6" height="4.6" fill="#fff" stroke="none"/>
<rect x="402.9" y="99.4" width="4.6" height="4.6" fill="#fff" stroke="none"/>
<rect x="405.6" y="103.5" width="4.6" height="4.6" fill="#fff" stroke="none"/>
<rect x="395.1" y="64.3" width="4.6" height="4.6" fill="#fff" stroke="none"/>
<rect x="404.2" y="78.9" width="4.6" height="4.6" fill="#fff" stroke="none"/>
<rect x="410.0" y="98.7" width="4.6" height="4.6" fill="#fff" stroke="none"/>
<rect x="409.1" y="71.5" width="4.6" height="4.6" fill="#fff" stroke="none"/>
<rect x="411.3" y="98.7" width="4.6" height="4.6" fill="#fff" stroke="none"/>
<rect x="413.5" y="90.4" width="4.6" height="4.6" fill="#fff" stroke="none"/>
<rect x="408.2" y="98.2" width="4.6" height="4.6" fill="#fff" stroke="none"/>
<rect x="402.1" y="99.6" width="4.6" height="4.6" fill="#fff" stroke="none"/>
<rect x="371.5" y="129.6" width="4.6" height="4.6" fill="#fff" stroke="none"/>
<rect x="382.7" y="122.7" width="4.6" height="4.6" fill="#fff" stroke="none"/>
<rect x="377.6" y="175.5" width="4.6" height="4.6" fill="#fff" stroke="none"/>
<rect x="386.3" y="162.8" width="4.6" height="4.6" fill="#fff" stroke="none"/>
<rect x="394.1" y="158.9" width="4.6" height="4.6" fill="#fff" stroke="none"/>
<rect x="403.9" y="141.4" width="4.6" height="4.6" fill="#fff" stroke="none"/>
<rect x="373.3" y="167.9" width="4.6" height="4.6" fill="#fff" stroke="none"/>
<rect x="390.4" y="146.6" width="4.6" height="4.6" fill="#fff" stroke="none"/>
<rect x="381.6" y="167.9" width="4.6" height="4.6" fill="#fff" stroke="none"/>
<rect x="391.6" y="160.4" width="4.6" height="4.6" fill="#fff" stroke="none"/>
<rect x="396.0" y="143.1" width="4.6" height="4.6" fill="#fff" stroke="none"/>
<rect x="388.2" y="165.3" width="4.6" height="4.6" fill="#fff" stroke="none"/>
<rect x="400.0" y="154.8" width="4.6" height="4.6" fill="#fff" stroke="none"/>
<rect x="396.7" y="174.2" width="4.6" height="4.6" fill="#fff" stroke="none"/>
<rect x="403.7" y="157.3" width="4.6" height="4.6" fill="#fff" stroke="none"/>
<rect x="402.7" y="169.2" width="4.6" height="4.6" fill="#fff" stroke="none"/>
<rect x="392.7" y="144.5" width="4.6" height="4.6" fill="#fff" stroke="none"/>
<rect x="382.7" y="167.7" width="4.6" height="4.6" fill="#fff" stroke="none"/>
<rect x="407.7" y="151.7" width="4.6" height="4.6" fill="#fff" stroke="none"/>
<rect x="407.7" y="169.7" width="4.6" height="4.6" fill="#fff" stroke="none"/>
<rect x="411.7" y="159.3" width="4.6" height="4.6" fill="#fff" stroke="none"/>
<rect x="412.7" y="171.7" width="4.6" height="4.6" fill="#fff" stroke="none"/>
<rect x="390.7" y="120.6" width="4.6" height="4.6" fill="#fff" stroke="none"/>
<rect x="379.4" y="127.9" width="4.6" height="4.6" fill="#fff" stroke="none"/>
<rect x="428.9" y="148.3" width="4.6" height="4.6" fill="#fff" stroke="none"/>
<rect x="434.7" y="167.7" width="4.6" height="4.6" fill="#fff" stroke="none"/>
<rect x="434.4" y="149.6" width="4.6" height="4.6" fill="#fff" stroke="none"/>
<rect x="446.7" y="169.7" width="4.6" height="4.6" fill="#fff" stroke="none"/>
<rect x="436.5" y="151.6" width="4.6" height="4.6" fill="#fff" stroke="none"/>
<rect x="450.7" y="172.7" width="4.6" height="4.6" fill="#fff" stroke="none"/>
<rect x="428.2" y="151.0" width="4.6" height="4.6" fill="#fff" stroke="none"/>
<rect x="429.7" y="171.7" width="4.6" height="4.6" fill="#fff" stroke="none"/>
<rect x="427.0" y="149.6" width="4.6" height="4.6" fill="#fff" stroke="none"/>
<rect x="425.7" y="169.7" width="4.6" height="4.6" fill="#fff" stroke="none"/>
<rect x="426.2" y="151.0" width="4.6" height="4.6" fill="#fff" stroke="none"/>
<rect x="422.7" y="171.7" width="4.6" height="4.6" fill="#fff" stroke="none"/>
<rect x="440.1" y="149.0" width="4.6" height="4.6" fill="#fff" stroke="none"/>
<rect x="454.7" y="168.7" width="4.6" height="4.6" fill="#fff" stroke="none"/>
<rect x="397.7" y="108.2" width="4.6" height="4.6" fill="#fff" stroke="none"/>
<rect x="401.7" y="108.2" width="4.6" height="4.6" fill="#fff" stroke="none"/>
<rect x="405.7" y="108.2" width="4.6" height="4.6" fill="#fff" stroke="none"/>
<rect x="409.7" y="108.2" width="4.6" height="4.6" fill="#fff" stroke="none"/>
<rect x="413.7" y="108.2" width="4.6" height="4.6" fill="#fff" stroke="none"/>
<rect x="417.7" y="108.2" width="4.6" height="4.6" fill="#fff" stroke="none"/>
<rect x="421.7" y="108.2" width="4.6" height="4.6" fill="#fff" stroke="none"/>
<rect x="425.7" y="108.2" width="4.6" height="4.6" fill="#fff" stroke="none"/>
<rect x="429.5" y="108.2" width="4.6" height="4.6" fill="#fff" stroke="none"/>
<rect x="410.7" y="120.4" width="4.6" height="4.6" fill="#fff" stroke="none"/>
<rect x="414.2" y="133.7" width="4.6" height="4.6" fill="#fff" stroke="none"/>
<rect x="425.7" y="136.7" width="4.6" height="4.6" fill="#fff" stroke="none"/>
<rect x="425.2" y="145.4" width="4.6" height="4.6" fill="#fff" stroke="none"/>
<rect x="404.3" y="119.2" width="4.6" height="4.6" fill="#fff" stroke="none"/>
<rect x="404.9" y="141.9" width="4.6" height="4.6" fill="#fff" stroke="none"/>
<rect x="413.0" y="139.0" width="4.6" height="4.6" fill="#fff" stroke="none"/>
<rect x="454.7" y="170.7" width="4.6" height="4.6" fill="#fff" stroke="none"/>
<rect x="459.7" y="172.7" width="4.6" height="4.6" fill="#fff" stroke="none"/>
<rect x="464.7" y="173.7" width="4.6" height="4.6" fill="#fff" stroke="none"/>
<rect x="444.7" y="159.7" width="4.6" height="4.6" fill="#fff" stroke="none"/>
<path d="M438.1,15.6L441.5,19.0M438.1,19.0L441.5,15.6M449.8,115.0L453.2,118.4M449.8,118.4L453.2,115.0M467.2,121.4L470.6,124.8M467.2,124.8L470.6,121.4M473.4,112.1L476.8,115.5M473.4,115.5L476.8,112.1M473.9,123.4L477.3,126.8M473.9,126.8L477.3,123.4M476.4,133.4L479.8,136.8M476.4,136.8L479.8,133.4M479.2,149.7L482.6,153.1M479.2,153.1L482.6,149.7M436.3,126.3L439.7,129.7M436.3,129.7L439.7,126.3M443.4,147.2L446.8,150.6M443.4,150.6L446.8,147.2M473.9,123.4L477.3,126.8M473.9,126.8L477.3,123.4M472.9,143.4L476.3,146.8M472.9,146.8L476.3,143.4M463.4,166.0L466.8,169.4M463.4,169.4L466.8,166.0M452.1,169.7L455.5,173.1M452.1,173.1L455.5,169.7M453.9,147.9L457.3,151.3M453.9,151.3L457.3,147.9M458.4,154.0L461.8,157.4M458.4,157.4L461.8,154.0M462.3,154.0L465.7,157.4M462.3,157.4L465.7,154.0M472.2,174.8L475.6,178.2M472.2,178.2L475.6,174.8M488.5,171.7L491.9,175.1M488.5,175.1L491.9,171.7M443.4,147.2L446.8,150.6M443.4,150.6L446.8,147.2M452.1,169.7L455.5,173.1M452.1,173.1L455.5,169.7M438.3,138.3L441.7,141.7M438.3,141.7L441.7,138.3M453.9,147.9L457.3,151.3M453.9,151.3L457.3,147.9M450.9,159.7L454.3,163.1M450.9,163.1L454.3,159.7M465.9,160.5L469.3,163.9M465.9,163.9L469.3,160.5M339.6,168.5L343.0,171.9M339.6,171.9L343.0,168.5M346.4,161.4L349.8,164.8M346.4,164.8L349.8,161.4M358.9,155.6L362.3,159.0M358.9,159.0L362.3,155.6M374.3,147.9L377.7,151.3M374.3,151.3L377.7,147.9M383.1,137.1L386.5,140.5M383.1,140.5L386.5,137.1M393.3,125.3L396.7,128.7M393.3,128.7L396.7,125.3M346.0,175.8L349.4,179.2M346.0,179.2L349.4,175.8M369.5,140.2L372.9,143.6M369.5,143.6L372.9,140.2M375.9,122.9L379.3,126.3M375.9,126.3L379.3,122.9M381.4,109.3L384.8,112.7M381.4,112.7L384.8,109.3M381.4,109.3L384.8,112.7M381.4,112.7L384.8,109.3M383.5,137.2L386.9,140.6M383.5,140.6L386.9,137.2M386.8,165.2L390.2,168.6M386.8,168.6L390.2,165.2M362.7,172.0L366.1,175.4M362.7,175.4L366.1,172.0M378.1,175.8L381.5,179.2M378.1,179.2L381.5,175.8M374.3,147.9L377.7,151.3M374.3,151.3L377.7,147.9M378.1,175.8L381.5,179.2M378.1,179.2L381.5,175.8M378.1,175.8L381.5,179.2M378.1,179.2L381.5,175.8M386.8,165.2L390.2,168.6M386.8,168.6L390.2,165.2M393.5,161.4L396.9,164.8M393.5,164.8L396.9,161.4M378.8,91.0L382.2,94.4M378.8,94.4L382.2,91.0M386.3,133.3L389.7,136.7M386.3,136.7L389.7,133.3M397.5,171.1L400.9,174.5M397.5,174.5L400.9,171.1M384.4,101.4L387.8,104.8M384.4,104.8L387.8,101.4M390.5,118.9L393.9,122.3M390.5,122.3L393.9,118.9M403.5,169.7L406.9,173.1M403.5,173.1L406.9,169.7M381.4,109.3L384.8,112.7M381.4,112.7L384.8,109.3M379.7,169.7L383.1,173.1M379.7,173.1L383.1,169.7M374.3,169.1L377.7,172.5M374.3,172.5L377.7,169.1M390.5,118.9L393.9,122.3M390.5,122.3L393.9,118.9M400.0,86.6L403.4,90.0M400.0,90.0L403.4,86.6M403.5,100.0L406.9,103.4M403.5,103.4L406.9,100.0M406.2,104.1L409.6,107.5M406.2,107.5L409.6,104.1M395.7,64.9L399.1,68.3M395.7,68.3L399.1,64.9M404.8,79.5L408.2,82.9M404.8,82.9L408.2,79.5M410.6,99.3L414.0,102.7M410.6,102.7L414.0,99.3M409.7,72.1L413.1,75.5M409.7,75.5L413.1,72.1M411.9,99.3L415.3,102.7M411.9,102.7L415.3,99.3M414.1,91.0L417.5,94.4M414.1,94.4L417.5,91.0M408.8,98.8L412.2,102.2M408.8,102.2L412.2,98.8M402.7,100.2L406.1,103.6M402.7,103.6L406.1,100.2M372.1,130.2L375.5,133.6M372.1,133.6L375.5,130.2M383.3,123.3L386.7,126.7M383.3,126.7L386.7,123.3M378.2,176.1L381.6,179.5M378.2,179.5L381.6,176.1M386.9,163.4L390.3,166.8M386.9,166.8L390.3,163.4M394.7,159.5L398.1,162.9M394.7,162.9L398.1,159.5M404.5,142.0L407.9,145.4M404.5,145.4L407.9,142.0M373.9,168.5L377.3,171.9M373.9,171.9L377.3,168.5M391.0,147.2L394.4,150.6M391.0,150.6L394.4,147.2M382.2,168.5L385.6,171.9M382.2,171.9L385.6,168.5M392.2,161.0L395.6,164.4M392.2,164.4L395.6,161.0M396.6,143.7L400.0,147.1M396.6,147.1L400.0,143.7M388.8,165.9L392.2,169.3M388.8,169.3L392.2,165.9M400.6,155.5L404.0,158.8M400.6,158.8L404.0,155.5M397.3,174.8L400.7,178.2M397.3,178.2L400.7,174.8M404.3,157.9L407.7,161.3M404.3,161.3L407.7,157.9M403.3,169.8L406.7,173.2M403.3,173.2L406.7,169.8M393.3,145.1L396.7,148.5M393.3,148.5L396.7,145.1M383.3,168.3L386.7,171.7M383.3,171.7L386.7,168.3M408.3,152.3L411.7,155.7M408.3,155.7L411.7,152.3M408.3,170.3L411.7,173.7M408.3,173.7L411.7,170.3M412.3,159.9L415.7,163.3M412.3,163.3L415.7,159.9M413.3,172.3L416.7,175.7M413.3,175.7L416.7,172.3M391.3,121.2L394.7,124.6M391.3,124.6L394.7,121.2M380.0,128.5L383.4,131.9M380.0,131.9L383.4,128.5M429.5,148.9L432.9,152.3M429.5,152.3L432.9,148.9M435.3,168.3L438.7,171.7M435.3,171.7L438.7,168.3M435.0,150.2L438.4,153.6M435.0,153.6L438.4,150.2M447.3,170.3L450.7,173.7M447.3,173.7L450.7,170.3M437.1,152.2L440.5,155.6M437.1,155.6L440.5,152.2M451.3,173.3L454.7,176.7M451.3,176.7L454.7,173.3M428.8,151.6L432.2,155.0M428.8,155.0L432.2,151.6M430.3,172.3L433.7,175.7M430.3,175.7L433.7,172.3M427.6,150.2L431.0,153.6M427.6,153.6L431.0,150.2M426.3,170.3L429.7,173.7M426.3,173.7L429.7,170.3M426.8,151.6L430.2,155.0M426.8,155.0L430.2,151.6M423.3,172.3L426.7,175.7M423.3,175.7L426.7,172.3M440.7,149.6L444.1,153.0M440.7,153.0L444.1,149.6M455.3,169.3L458.7,172.7M455.3,172.7L458.7,169.3M398.3,108.8L401.7,112.2M398.3,112.2L401.7,108.8M402.3,108.8L405.7,112.2M402.3,112.2L405.7,108.8M406.3,108.8L409.7,112.2M406.3,112.2L409.7,108.8M410.3,108.8L413.7,112.2M410.3,112.2L413.7,108.8M414.3,108.8L417.7,112.2M414.3,112.2L417.7,108.8M418.3,108.8L421.7,112.2M418.3,112.2L421.7,108.8M422.3,108.8L425.7,112.2M422.3,112.2L425.7,108.8M426.3,108.8L429.7,112.2M426.3,112.2L429.7,108.8M430.1,108.8L433.5,112.2M430.1,112.2L433.5,108.8M411.3,121.0L414.7,124.4M411.3,124.4L414.7,121.0M414.8,134.3L418.2,137.7M414.8,137.7L418.2,134.3M426.3,137.3L429.7,140.7M426.3,140.7L429.7,137.3M425.8,146.0L429.2,149.4M425.8,149.4L429.2,146.0M404.9,119.8L408.3,123.2M404.9,123.2L408.3,119.8M405.5,142.5L408.9,145.9M405.5,145.9L408.9,142.5M413.6,139.6L417.0,143.0M413.6,143.0L417.0,139.6M455.3,171.3L458.7,174.7M455.3,174.7L458.7,171.3M460.3,173.3L463.7,176.7M460.3,176.7L463.7,173.3M465.3,174.3L468.7,177.7M465.3,177.7L468.7,174.3M445.3,160.3L448.7,163.7M445.3,163.7L448.7,160.3" stroke="#000" stroke-width="1.0" fill="none"/>
</g>
<g stroke="#000" fill="none" stroke-linecap="butt">
<path d="M80.2,290.3V427.2H249" stroke-width="1.5"/>
<path d="M80.2,423.4h3.6" stroke-width="1.2"/>
<path d="M80.2,414.1h2.2" stroke-width="1"/>
<path d="M80.2,404.9h3.6" stroke-width="1.2"/>
<path d="M80.2,395.6h2.2" stroke-width="1"/>
<path d="M80.2,386.4h3.6" stroke-width="1.2"/>
<path d="M80.2,377.1h2.2" stroke-width="1"/>
<path d="M80.2,367.9h3.6" stroke-width="1.2"/>
<path d="M80.2,358.6h2.2" stroke-width="1"/>
<path d="M80.2,349.3h3.6" stroke-width="1.2"/>
<path d="M80.2,340.1h2.2" stroke-width="1"/>
<path d="M80.2,330.8h3.6" stroke-width="1.2"/>
<path d="M80.2,321.6h2.2" stroke-width="1"/>
<path d="M80.2,312.3h3.6" stroke-width="1.2"/>
<path d="M80.2,303.1h2.2" stroke-width="1"/>
<path d="M80.2,293.8h3.6" stroke-width="1.2"/>
</g>
<text x="76.6" y="427.09999999999997" font-size="10.4" text-anchor="end" >0</text>
<text x="76.6" y="408.58571428571423" font-size="10.4" text-anchor="end" >100</text>
<text x="76.6" y="390.07142857142856" font-size="10.4" text-anchor="end" >200</text>
<text x="76.6" y="371.5571428571428" font-size="10.4" text-anchor="end" >300</text>
<text x="76.6" y="353.04285714285714" font-size="10.4" text-anchor="end" >400</text>
<text x="76.6" y="334.5285714285714" font-size="10.4" text-anchor="end" >500</text>
<text x="76.6" y="316.0142857142857" font-size="10.4" text-anchor="end" >600</text>
<text x="76.6" y="297.5" font-size="10.4" text-anchor="end" >700</text>
<text x="80.7" y="274.7" font-size="10.7" text-anchor="start" >sensitive</text>
<text x="163.2" y="292.7" font-size="10.6" text-anchor="middle" >p=0.0043</text>
<path d="M133.8,296.6H207.2" stroke="#000" stroke-width="1.3"/>
<path d="M116.5,392.6H159" stroke="#000" stroke-width="1.4"/>
<path d="M137.8,427.2v2.6M209,427.2v2.6M395.8,427.8v2.6M464.2,427.8v2.6" stroke="#000" stroke-width="1"/>
<path d="M187.6,410.2H229.7" stroke="#000" stroke-width="1.4"/>
<text x="138" y="441" font-size="10.6" text-anchor="middle" >escalation</text>
<text x="208.5" y="441" font-size="10.6" text-anchor="middle" >follow-up</text>
<text transform="translate(49,352.3) rotate(-90)" font-size="10.9" text-anchor="middle">sFASL (pg/ml)</text>
<g stroke="#000" stroke-width="1.4" fill="#fff">
<circle cx="137.7" cy="310.1" r="2.15"/>
<circle cx="137.7" cy="322.2" r="2.15"/>
<circle cx="137.7" cy="325.4" r="2.15"/>
<circle cx="137.7" cy="347.1" r="2.15"/>
<circle cx="137.8" cy="365" r="2.15"/>
<circle cx="137.8" cy="372.3" r="2.15"/>
<circle cx="137.8" cy="379.2" r="2.15"/>
<circle cx="137" cy="383.6" r="2.15"/>
<circle cx="140.8" cy="384.6" r="2.15"/>
<circle cx="134.4" cy="387.2" r="2.15"/>
<circle cx="134.9" cy="393" r="2.15"/>
<circle cx="140.2" cy="392.1" r="2.15"/>
<circle cx="134.9" cy="402.1" r="2.15"/>
<circle cx="140.2" cy="402.1" r="2.15"/>
<circle cx="134.9" cy="407.8" r="2.15"/>
<circle cx="140.2" cy="407.1" r="2.15"/>
<circle cx="126.8" cy="418.6" r="2.15"/>
<circle cx="132.2" cy="418.3" r="2.15"/>
<circle cx="137.6" cy="418.5" r="2.15"/>
<circle cx="142.9" cy="418" r="2.15"/>
<circle cx="148.5" cy="417.4" r="2.15"/>
<circle cx="137.8" cy="422.7" r="2.15"/>
<circle cx="209" cy="315.2" r="2.15"/>
<circle cx="209" cy="342.6" r="2.15"/>
<circle cx="209" cy="353.7" r="2.15"/>
<circle cx="209" cy="373.8" r="2.15"/>
<circle cx="209" cy="382.1" r="2.15"/>
<circle cx="208.8" cy="399.8" r="2.15"/>
<circle cx="208.8" cy="404" r="2.15"/>
<circle cx="203.1" cy="407.3" r="2.15"/>
<circle cx="214.6" cy="406.3" r="2.15"/>
<circle cx="208.8" cy="407.8" r="2.15"/>
<circle cx="211.7" cy="410.2" r="2.15"/>
<circle cx="217.5" cy="410.2" r="2.15"/>
<circle cx="200.2" cy="412.7" r="2.15"/>
<circle cx="206" cy="412.7" r="2.15"/>
<circle cx="214.6" cy="415.2" r="2.15"/>
<circle cx="203.1" cy="416.2" r="2.15"/>
<circle cx="208.8" cy="416.2" r="2.15"/>
<circle cx="203.1" cy="419.2" r="2.15"/>
<circle cx="208.8" cy="419.2" r="2.15"/>
<circle cx="214.6" cy="419" r="2.15"/>
<circle cx="211.7" cy="421" r="2.15"/>
<circle cx="206" cy="422.6" r="2.15"/>
</g>
<g stroke="#000" fill="none" stroke-linecap="butt">
<path d="M337.7,290.8V427.8H507.8" stroke-width="1.5"/>
<path d="M337.7,424.3h3.6" stroke-width="1.2"/>
<path d="M337.7,415.0h2.2" stroke-width="1"/>
<path d="M337.7,405.7h3.6" stroke-width="1.2"/>
<path d="M337.7,396.4h2.2" stroke-width="1"/>
<path d="M337.7,387.2h3.6" stroke-width="1.2"/>
<path d="M337.7,377.9h2.2" stroke-width="1"/>
<path d="M337.7,368.6h3.6" stroke-width="1.2"/>
<path d="M337.7,359.3h2.2" stroke-width="1"/>
<path d="M337.7,350.0h3.6" stroke-width="1.2"/>
<path d="M337.7,340.7h2.2" stroke-width="1"/>
<path d="M337.7,331.4h3.6" stroke-width="1.2"/>
<path d="M337.7,322.2h2.2" stroke-width="1"/>
<path d="M337.7,312.9h3.6" stroke-width="1.2"/>
<path d="M337.7,303.6h2.2" stroke-width="1"/>
<path d="M337.7,294.3h3.6" stroke-width="1.2"/>
</g>
<text x="334.6" y="428.0" font-size="10.4" text-anchor="end" >0</text>
<text x="334.6" y="409.42857142857144" font-size="10.4" text-anchor="end" >100</text>
<text x="334.6" y="390.85714285714283" font-size="10.4" text-anchor="end" >200</text>
<text x="334.6" y="372.2857142857143" font-size="10.4" text-anchor="end" >300</text>
<text x="334.6" y="353.7142857142857" font-size="10.4" text-anchor="end" >400</text>
<text x="334.6" y="335.14285714285717" font-size="10.4" text-anchor="end" >500</text>
<text x="334.6" y="316.57142857142856" font-size="10.4" text-anchor="end" >600</text>
<text x="334.6" y="298.0" font-size="10.4" text-anchor="end" >700</text>
<text x="338.3" y="274.9" font-size="10.7" text-anchor="start" >refractory</text>
<text x="426.6" y="292.7" font-size="10.6" text-anchor="middle" >p=0.0028</text>
<path d="M391.2,296.6H464.7" stroke="#000" stroke-width="1.3"/>
<path d="M374.7,411.7H416.8" stroke="#000" stroke-width="1.4"/>
<path d="M442.6,420.7H485.2" stroke="#000" stroke-width="1.4"/>
<text x="396" y="441" font-size="10.6" text-anchor="middle" >escalation</text>
<text x="465.5" y="441" font-size="10.6" text-anchor="middle" >follow-up</text>
<text transform="translate(307.5,352.7) rotate(-90)" font-size="10.9" text-anchor="middle">sFASL (pg/ml)</text>
<path d="M392.1,312.4L395.7,305.8L399.3,312.4ZM392.2,376.8L395.8,370.2L399.4,376.8ZM395.4,383.1L399.0,376.5L402.6,383.1ZM389.7,386.4L393.3,379.8L396.9,386.4ZM392.7,389.9L396.3,383.3L399.9,389.9ZM392.2,399.4L395.8,392.8L399.4,399.4ZM392.2,405.2L395.8,398.6L399.4,405.2ZM386.7,411.4L390.3,404.8L393.9,411.4ZM392.2,410.7L395.8,404.1L399.4,410.7ZM397.9,410.2L401.5,403.6L405.1,410.2ZM386.7,415.7L390.3,409.1L393.9,415.7ZM392.2,415.2L395.8,408.6L399.4,415.2ZM397.9,415.7L401.5,409.1L405.1,415.7ZM389.2,419.5L392.8,412.9L396.4,419.5ZM395.4,419.5L399.0,412.9L402.6,419.5ZM381.1,426.2L384.7,419.6L388.3,426.2ZM385.4,425.7L389.0,419.1L392.6,425.7ZM389.2,425.7L392.8,419.1L396.4,425.7ZM394.2,425.7L397.8,419.1L401.4,425.7ZM399.2,425.7L402.8,419.1L406.4,425.7ZM403.7,425.7L407.3,419.1L410.9,425.7ZM391.4,422.5L395.0,415.9L398.6,422.5ZM396.4,422.5L400.0,415.9L403.6,422.5ZM460.7,400.1L464.3,393.5L467.9,400.1ZM460.1,412.5L463.7,405.9L467.3,412.5ZM463.6,413.0L467.2,406.4L470.8,413.0ZM457.4,416.5L461.0,409.9L464.6,416.5ZM461.9,417.0L465.5,410.4L469.1,417.0ZM466.4,417.5L470.0,410.9L473.6,417.5ZM454.9,420.5L458.5,413.9L462.1,420.5ZM459.4,421.0L463.0,414.4L466.6,421.0ZM464.4,421.0L468.0,414.4L471.6,421.0ZM468.4,422.0L472.0,415.4L475.6,422.0ZM471.6,421.5L475.2,414.9L478.8,421.5ZM449.1,424.5L452.7,417.9L456.3,424.5ZM453.2,424.0L456.8,417.4L460.4,424.0ZM456.9,424.5L460.5,417.9L464.1,424.5ZM460.9,424.5L464.5,417.9L468.1,424.5ZM464.9,424.5L468.5,417.9L472.1,424.5ZM468.9,424.5L472.5,417.9L476.1,424.5ZM472.7,425.0L476.3,418.4L479.9,425.0ZM448.4,427.0L452.0,420.4L455.6,427.0ZM452.9,427.0L456.5,420.4L460.1,427.0ZM457.4,427.0L461.0,420.4L464.6,427.0ZM461.9,427.0L465.5,420.4L469.1,427.0ZM466.4,427.0L470.0,420.4L473.6,427.0ZM470.9,427.0L474.5,420.4L478.1,427.0Z" fill="#000" stroke="none"/>
</svg></body></html>
